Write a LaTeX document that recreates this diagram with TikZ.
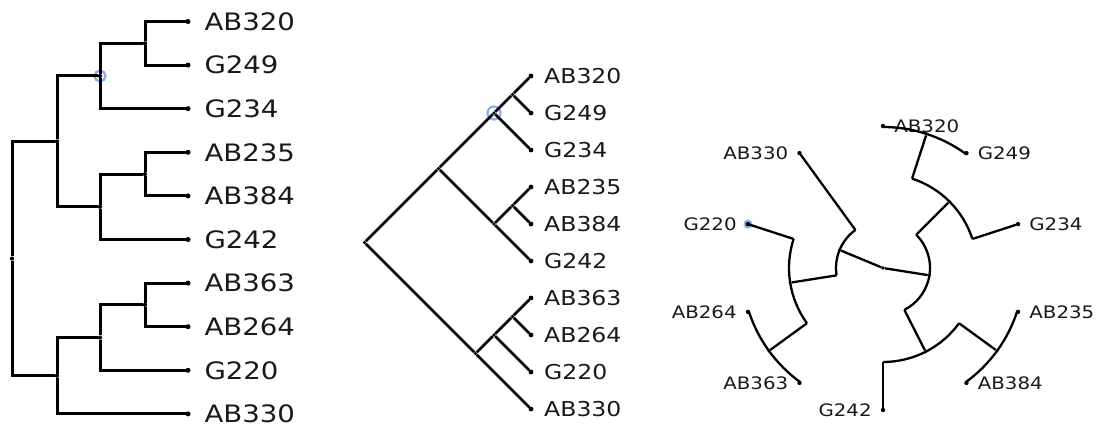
\documentclass[tikz,border=0pt]{standalone}
\usepackage{fontspec}
\newfontfamily\taxfont[FakeStretch=1.15]{DejaVu Sans}
\usetikzlibrary{calc,positioning}

\definecolor{pick}{RGB}{140,172,240}

\tikzset{
  leafdot/.style={circle,fill=black,inner sep=0pt,outer sep=0pt,minimum size=#1},
  leafdot/.default=5pt,
  forkdot/.style={circle,fill=black,inner sep=0pt,outer sep=0pt,minimum size=#1},
  forkdot/.default=4.2pt,
  taxon/.style={font=\taxfont\fontsize{#1}{#1}\selectfont,text=black!90,inner sep=0pt},
  elbow/.style={to path={|- (\tikztotarget)}},
}

\begin{document}
\begin{tikzpicture}[x=1pt,y=-1pt]
\useasboundingbox (0,0) rectangle (1098,430);

% rectangular cladogram
\begin{scope}[node distance=43.6pt,on grid,line width=3pt,every edge/.style={draw,line width=3pt,elbow}]
 \node[leafdot,label={[taxon=24,label distance=12.5pt]right:AB320}] (lAB320) at (188,21.5) {};
 \foreach \n [remember=\n as \p (initially AB320)] in {G249,G234,AB235,AB384,G242,AB363,AB264,G220,AB330}
  \node[leafdot,label={[taxon=24,label distance=12.5pt]right:\n}] (l\n) [below=of l\p] {};
 \node[forkdot] (l0) at (12,258.6) {};
 \node[forkdot] (lA) at (57,141.4) {};
 \node[forkdot] (lB) at (57,375.8) {};
 \node[forkdot] (lX) at (100,76) {};
 \node[forkdot] (lY) at (100,206.8) {};
 \node[forkdot] (lC) at (100,337.6) {};
 \node[forkdot] (la) at (145,43.3) {};
 \node[forkdot] (lb) at (145,174.1) {};
 \node[forkdot] (lc) at (145,304.9) {};
 \draw[pick,line width=2.2pt] (lX) circle[radius=5.5];
 \path
  (l0) edge (lA) edge (lB)
  (lA) edge (lX) edge (lY)
  (lX) edge (la) edge (lG234)
  (la) edge (lAB320) edge (lG249)
  (lY) edge (lb) edge (lG242)
  (lb) edge (lAB235) edge (lAB384)
  (lB) edge (lC) edge (lAB330)
  (lC) edge (lc) edge (lG220)
  (lc) edge (lAB363) edge (lAB264);
\end{scope}

% slanted cladogram
\begin{scope}[node distance=37pt,on grid,line width=2.6pt,every edge/.style={draw,line width=2.6pt}]
 \node[leafdot=4.8pt,label={[taxon=20.5,label distance=9.5pt]right:AB320}] (mAB320) at (531,76) {};
 \foreach \n [remember=\n as \p (initially AB320)] in {G249,G234,AB235,AB384,G242,AB363,AB264,G220,AB330}
  \node[leafdot=4.8pt,label={[taxon=20.5,label distance=9.5pt]right:\n}] (m\n) [below=of m\p] {};
 \node[forkdot=3.8pt] (m0) at (364.5,242.5) {};
 \node[forkdot=3.8pt] (mA) at (438.5,168.5) {};
 \node[forkdot=3.8pt] (mB) at (475.5,353.5) {};
 \node[forkdot=3.8pt] (mX) at (494,113) {};
 \node[forkdot=3.8pt] (mY) at (494,224) {};
 \node[forkdot=3.8pt] (mC) at (494,335) {};
 \node[forkdot=3.8pt] (ma) at (512.5,94.5) {};
 \node[forkdot=3.8pt] (mb) at (512.5,205.5) {};
 \node[forkdot=3.8pt] (mc) at (512.5,316.5) {};
 \draw[pick,line width=2.2pt] (mX) circle[radius=6.5];
 \path
  (m0) edge (mA) edge (mB)
  (mA) edge (mX) edge (mY)
  (mX) edge (ma) edge (mG234)
  (ma) edge (mAB320) edge (mG249)
  (mY) edge (mb) edge (mG242)
  (mb) edge (mAB235) edge (mAB384)
  (mB) edge (mC) edge (mAB330)
  (mC) edge (mc) edge (mG220)
  (mc) edge (mAB363) edge (mAB264);
\end{scope}

% circular cladogram, angles counted anticlockwise
\begin{scope}[shift={(883,268)},y=1pt,line width=2.3pt]
 \fill[pick] (162:142) circle[radius=4.5];
 \node[forkdot=3.6pt] (rr) at (0,0) {};
 \node[forkdot=3.4pt] (rA) at (-9:47) {};
 \node[forkdot=3.4pt] (rB) at (157.5:47) {};
 \node[forkdot=3.4pt] (rX) at (45:94) {};
 \node[forkdot=3.4pt] (rY) at (-63:94) {};
 \node[forkdot=3.4pt] (rC) at (189:94) {};
 \node[forkdot=3.4pt] (ra) at (72:141) {};
 \node[forkdot=3.4pt] (rb) at (-36:141) {};
 \node[forkdot=3.4pt] (rc) at (216:141) {};
 \foreach \n/\a/\s in {AB320/90/right,G249/54/right,G234/18/right,AB235/-18/right,AB384/-54/right,
   G242/-90/left,AB363/-126/left,AB264/-162/left,G220/162/left,AB330/126/left}
  \node[leafdot=4.4pt,label/.expanded={[taxon=17.2,label distance=8pt]\s:\n}] (r\n) at (\a:142) {};
 % arcs at the parent radius
 \foreach \r/\s/\e in {47/45/-63,47/126/189,94/72/18,94/-36/-90,94/162/216,141/90/54,141/-18/-54,141/198/234}
  \draw[line width=2.3pt] (rr) ++(\s:\r) arc[start angle=\s,end angle=\e,radius=\r];
 \draw[line width=2.3pt] (rr) -- (rA) (rr) -- (rB);
 \foreach \r/\c in {47/X,47/Y,47/C,47/AB330,94/a,94/G234,94/b,94/G242,94/c,94/G220}
  \draw[line width=2.3pt] ($(rr)!\r pt!(r\c)$) -- (r\c);
\end{scope}
\end{tikzpicture}
\end{document}
